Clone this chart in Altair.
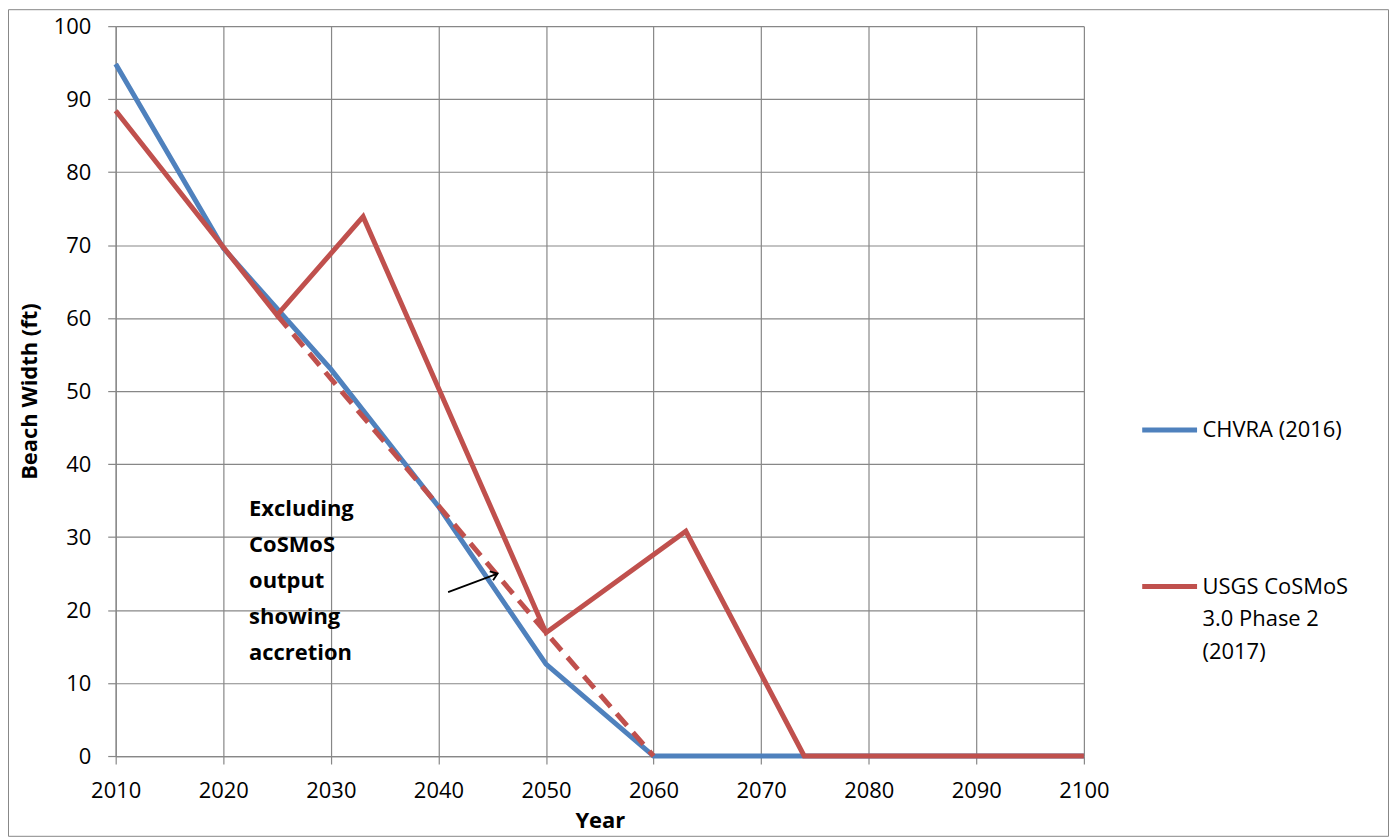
import altair as alt
import pandas as pd

# ---- data ----
series_names = ["CHVRA (2016)", "USGS CoSMoS 3.0 Phase 2 (2017)"]
series_colors = ["#4F81BD", "#C0504D"]

chvra_years = [2010, 2020, 2030, 2040, 2050, 2060, 2070, 2080, 2090, 2100]
chvra_width = [94.8, 69.6, 53.0, 34.2, 12.6, 0, 0, 0, 0, 0]

usgs_years = [2010, 2025, 2033, 2050, 2063, 2074, 2100]
usgs_width = [88.4, 60.4, 73.9, 16.9, 30.8, 0, 0]

dashed_years = [2025, 2050, 2060]
dashed_width = [60.4, 16.9, 0]

note_year = [2022.4]
note_width = [35.2]
note_text = ["Excluding\nCoSMoS\noutput\nshowing\naccretion"]

arrow_years = [2040.9, 2045.5]
arrow_width = [22.45, 25.0]

x_ticks = list(range(2010, 2101, 10))
y_ticks = list(range(0, 101, 10))

FONT = "Open Sans"
GRID = "#878787"

main_df = pd.DataFrame({
    "Year": chvra_years + usgs_years,
    "Width": chvra_width + usgs_width,
    "Series": [series_names[0]] * len(chvra_years) + [series_names[1]] * len(usgs_years),
})
dash_df = pd.DataFrame({"Year": dashed_years, "Width": dashed_width})
note_df = pd.DataFrame({"Year": note_year, "Width": note_width, "text": note_text})
arrow_df = pd.DataFrame({"Year": [arrow_years[0]], "Year2": [arrow_years[1]],
                         "Width": [arrow_width[0]], "Width2": [arrow_width[1]]})
tip_df = pd.DataFrame({"Year": [arrow_years[1]], "Width": [arrow_width[1]]})

xscale = alt.Scale(domain=[2010, 2100], nice=False, zero=False)
yscale = alt.Scale(domain=[0, 100], nice=False)

x_enc = alt.X("Year:Q", scale=xscale,
              axis=alt.Axis(values=x_ticks, format="d", title="Year",
                            titleX=485.5, titleY=65, titleAlign="center",
                            titleBaseline="middle", labelPadding=17,
                            labelFlush=False))
y_enc = alt.Y("Width:Q", scale=yscale,
              axis=alt.Axis(values=y_ticks, title="Beach Width (ft)",
                            titleX=-86, titleY=366, titleAngle=270,
                            titleAlign="center", titleBaseline="middle",
                            labelPadding=17, labelFlush=False))

legend = alt.Legend(
    title=None, orient="none", legendX=1027, legendY=375,
    symbolType="stroke", symbolSize=3025, symbolStrokeWidth=5,
    labelFont=FONT, labelFontSize=22, labelColor="black", labelLimit=400,
    labelOffset=3, rowPadding=116, padding=0,
    labelExpr="datum.label == 'USGS CoSMoS 3.0 Phase 2 (2017)' ? ['USGS CoSMoS', '3.0 Phase 2', '(2017)'] : datum.label",
)

lines = alt.Chart(main_df).mark_line(strokeWidth=5, strokeJoin="miter").encode(
    x=x_enc, y=y_enc,
    color=alt.Color("Series:N", scale=alt.Scale(domain=series_names, range=series_colors),
                    legend=legend),
)

dashed = alt.Chart(dash_df).mark_line(strokeWidth=5, color=series_colors[1],
                                       strokeDash=[16, 9]).encode(
    x="Year:Q", y="Width:Q")

note = alt.Chart(note_df).mark_text(
    align="left", baseline="top", font=FONT, fontSize=22, fontWeight="bold",
    lineBreak="\n", lineHeight=36, color="black").encode(
    x="Year:Q", y="Width:Q", text="text:N")

arrow = alt.Chart(arrow_df).mark_rule(color="black", strokeWidth=1.8).encode(
    x="Year:Q", x2="Year2:Q", y="Width:Q", y2="Width2:Q")

tip = alt.Chart(tip_df).mark_point(
    shape="M-1.1,-0.8L0,0L-1.1,0.8", filled=False, color="black",
    strokeWidth=1.8, size=144, angle=339.5, opacity=1).encode(
    x="Year:Q", y="Width:Q")

frame = alt.Chart(note_df).mark_rect(fill=None, stroke=GRID, strokeWidth=1).encode(
    x=alt.value(-107.5), x2=alt.value(1276.5), y=alt.value(-16.5), y2=alt.value(812.5))

chart = alt.layer(frame, lines, dashed, note, arrow, tip).properties(
    width=971, height=732,
    autosize=alt.AutoSizeParams(type="none"),
    padding={"left": 108, "top": 17, "right": 306, "bottom": 81},
).configure(
    style={"guide-label": {"lineHeight": 33}}
).configure_view(stroke=None).configure_axis(
    labelFont=FONT, labelFontSize=22, labelColor="black",
    titleFont=FONT, titleFontSize=22, titleFontWeight="bold", titleColor="black",
    gridColor=GRID, gridWidth=1.2, gridOpacity=1,
    domainColor=GRID, domainWidth=1.2, tickColor=GRID, tickWidth=1.2, tickSize=8,
)

chart.save("out.html", embed_options={"renderer": "svg", "actions": False})
